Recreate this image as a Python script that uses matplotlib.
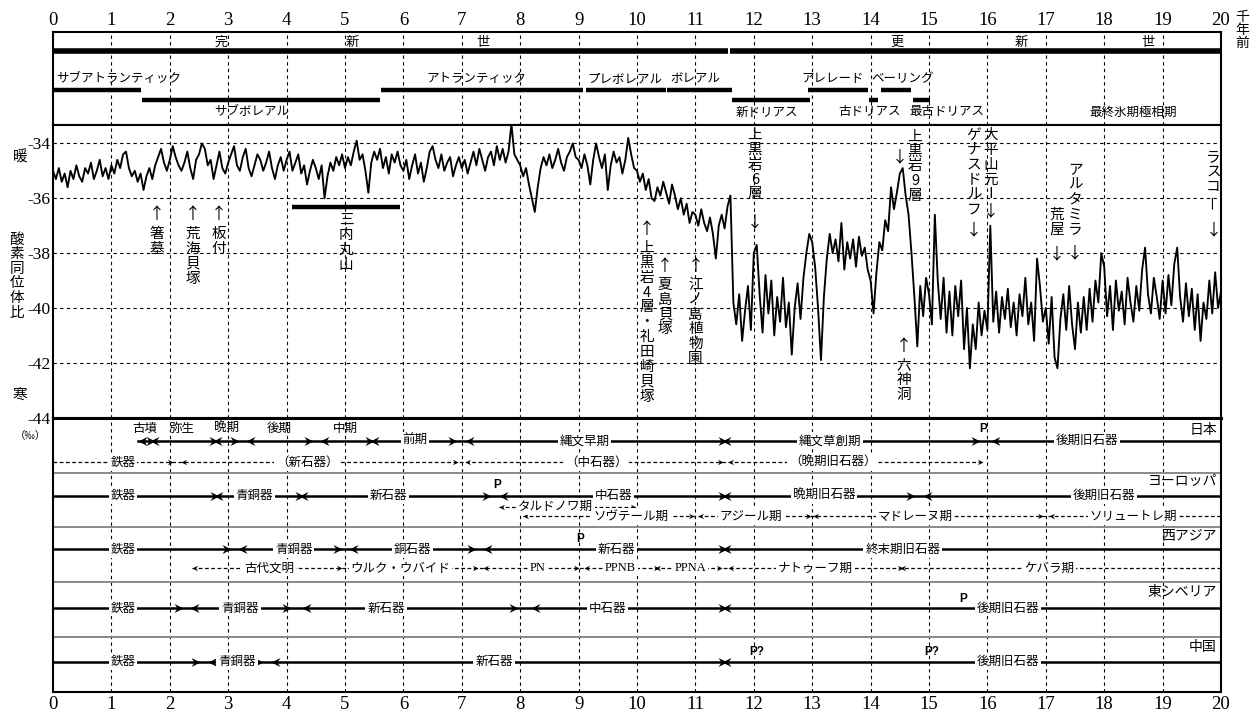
import numpy as np
import matplotlib
matplotlib.use('Agg')
import matplotlib.pyplot as plt
from matplotlib.path import Path

plt.rcParams['font.family'] = ['Noto Sans CJK JP', 'DejaVu Sans']
SERIF = 'Liberation Serif'

# ---- 酸素同位体比 (0.05千年ごと, 1行 = 1000年) ----
d18o = [
    -35.0, -35.3, -34.9, -35.4, -35.1, -35.6, -35.0, -35.3, -34.8, -35.2, -35.4, -34.9, -35.1, -34.7, -35.3, -35.0, -34.6, -35.2, -34.9, -35.3,
    -34.8, -35.1, -34.6, -34.9, -34.4, -34.3, -34.9, -35.2, -35.0, -35.4, -35.1, -35.7, -35.2, -34.9, -35.3, -34.8, -34.5, -34.2, -34.7, -35.0,
    -34.6, -34.1, -34.5, -34.8, -35.0, -34.7, -34.3, -34.9, -35.3, -34.6, -34.4, -34.0, -34.2, -34.8, -34.6, -35.3, -34.8, -34.3, -34.9, -35.1,
    -34.7, -34.4, -34.1, -34.8, -35.0, -34.5, -34.2, -34.9, -35.2, -34.8, -34.4, -34.6, -35.0, -34.7, -34.3, -34.9, -35.3, -34.8, -34.5, -35.0,
    -34.6, -34.3, -35.0, -34.7, -34.4, -35.1, -34.8, -35.5, -35.0, -34.6, -34.9, -35.3, -34.8, -36.0, -35.2, -34.7, -35.0, -34.5, -34.8, -34.4,
    -34.9, -34.5, -34.8, -34.3, -33.9, -34.6, -34.4, -35.0, -35.8, -34.7, -34.3, -34.6, -34.2, -34.9, -34.5, -35.1, -34.4, -34.7, -34.3, -34.8,
    -35.0, -34.6, -35.3, -34.8, -34.4, -35.1, -34.7, -35.4, -34.9, -34.3, -34.1, -34.6, -34.9, -34.4, -35.0, -34.7, -34.5, -35.2, -34.8, -34.5,
    -34.9, -34.6, -35.1, -34.7, -34.3, -34.8, -34.2, -34.6, -35.0, -34.5, -34.3, -34.8, -34.1, -34.6, -34.2, -34.7, -34.3, -33.3, -34.4, -34.6,
    -34.8, -35.2, -34.9, -35.5, -36.0, -36.5, -35.6, -34.9, -34.5, -34.8, -34.4, -34.9, -34.6, -34.2, -34.7, -35.0, -34.5, -34.3, -34.0, -34.5,
    -34.6, -34.9, -34.4, -34.8, -35.5, -34.6, -34.0, -34.5, -34.9, -34.4, -35.7, -34.8, -34.3, -34.7, -34.5, -35.1, -34.6, -33.8, -34.4, -34.9,
    -35.0, -35.4, -35.1, -35.7, -35.3, -36.0, -36.1, -35.6, -35.9, -35.4, -35.8, -36.2, -35.5, -35.9, -36.4, -36.0, -36.6, -36.2, -36.9, -36.5,
    -36.6, -37.0, -36.4, -36.9, -37.2, -36.7, -37.3, -38.2, -37.0, -36.6, -37.1, -36.3, -35.9, -39.8, -40.6, -39.5, -41.2, -40.1, -39.2, -40.8,
    -38.0, -37.7, -39.5, -40.9, -38.8, -40.2, -39.0, -41.0, -39.6, -40.5, -38.9, -40.7, -39.8, -41.7, -40.0, -39.1, -40.4, -38.9, -38.0, -37.3,
    -37.6, -38.5, -40.0, -41.9, -39.6, -38.2, -37.3, -38.0, -37.5, -38.3, -36.9, -38.6, -37.6, -38.2, -37.5, -38.5, -37.4, -38.1, -37.8, -38.6,
    -39.0, -40.2, -38.7, -37.6, -37.9, -36.8, -37.2, -35.6, -36.4, -35.8, -35.1, -34.9, -35.9, -36.6, -38.0, -39.6, -41.4, -39.2, -40.3, -38.9,
    -39.5, -40.6, -36.6, -39.0, -40.4, -38.9, -40.9, -39.4, -41.0, -39.2, -40.3, -39.0, -41.5, -40.0, -42.2, -40.6, -41.5, -39.8, -41.0, -40.1,
    -40.8, -37.0, -40.5, -39.4, -40.9, -39.6, -40.4, -39.3, -40.7, -39.8, -41.0, -39.5, -40.3, -38.9, -40.6, -39.8, -41.2, -38.2, -39.2, -40.5,
    -40.0, -41.3, -39.6, -41.8, -42.2, -40.4, -39.5, -40.8, -39.2, -40.6, -41.5, -39.8, -40.9, -39.6, -40.8, -39.3, -40.5, -39.0, -39.8, -38.0,
    -38.5, -40.3, -39.2, -40.8, -39.0, -40.1, -39.4, -40.6, -38.9, -39.8, -40.5, -39.2, -40.1, -38.6, -37.8, -39.5, -40.2, -38.9, -39.6, -40.4,
    -39.0, -40.2, -38.8, -39.9, -38.4, -37.8, -39.6, -40.5, -39.1, -40.3, -39.3, -40.8, -39.5, -41.2, -39.8, -40.4, -39.0, -40.2, -38.7, -40.0,
    -39.4,
]
ages = np.linspace(0, 20, len(d18o))

# ---- 地質区分・花粉帯 ----
epoch_bars = [(0.0, 11.55), (11.6, 20.0)]
epoch_labels = [(2.88, '完'), (5.12, '新'), (7.36, '世'), (14.46, '更'), (16.58, '新'), (18.75, '世')]
zone_upper = [(0.0, 1.5), (5.62, 9.07), (9.12, 10.49), (10.52, 11.62), (12.93, 13.95), (14.17, 14.7)]
zone_lower = [(1.52, 5.6), (11.62, 12.96), (13.97, 14.12), (14.72, 15.02)]
zone_upper_labels = [(7.25, 'アトランティック'), (9.8, 'プレボレアル'), (11.0, 'ボレアル'),
                     (13.35, 'アレレード'), (14.55, 'ベーリング')]
zone_lower_labels = [(3.4, 'サブボレアル'), (12.22, '新ドリアス'), (13.98, '古ドリアス'),
                     (15.3, '最古ドリアス'), (18.5, '最終氷期極相期')]

# ---- 遺跡 (名前, x, 矢印の値, 矢印, 文字の上端, 文字のx) ----
sites = [
    ('箸墓', 1.78, -36.58, '↑', -37.05, 1.78),
    ('荒海貝塚', 2.39, -36.58, '↑', -37.05, 2.39),
    ('板付', 2.84, -36.58, '↑', -37.05, 2.84),
    ('上黒岩4層・礼田崎貝塚', 10.17, -37.13, '↑', -37.56, 10.17),
    ('夏島貝塚', 10.48, -38.47, '↑', -38.9, 10.48),
    ('江ノ島植物園', 11.0, -38.47, '↑', -38.9, 11.0),
    ('上黒岩6層', 12.02, -36.87, '↓', -33.44, 12.02),
    ('上黒岩9層', 14.5, -34.5, '↓', -33.5, 14.76),
    ('六神洞', 14.57, -41.39, '↑', -41.82, 14.57),
    ('ゲナスドルフ', 15.77, -37.13, '↓', -33.44, 15.77),
    ('大平山元Ⅰ', 16.06, -36.47, '↓', -33.44, 16.06),
    ('荒屋', 17.19, -38.04, '↓', -36.36, 17.19),
    ('アルタミラ', 17.5, -38.0, '↓', -34.72, 17.5),
    ('ラスコー', 19.87, -37.13, '↓', -34.24, 19.87),
]
sannai = (4.09, 5.94, -36.32)

# ---- 文化編年 ----
jp_line, jp_r, jp_l = (1.45, 20.0), [1.74, 2.82, 3.18, 4.45, 5.5, 6.92, 11.54, 15.88], [1.45, 1.66, 2.74, 3.3, 4.57, 5.42, 7.06, 11.46, 16.06]
jp_top = [(1.57, '古墳'), (2.2, '弥生'), (2.97, '晩期'), (3.88, '後期'), (5.0, '中期')]
jp_labels = [(6.2, '前期'), (9.1, '縄文早期'), (13.3, '縄文草創期'), (17.7, '後期旧石器')]
jp_sub_line, jp_sub_r, jp_sub_l = (0.0, 15.92), [2.06, 6.93, 11.47, 15.92], [2.2, 7.06, 11.55]
jp_sub_labels = [(1.2, '鉄器'), (4.35, '（新石器）'), (9.3, '（中石器）'), (13.35, '（晩期旧石器）')]

eu_line, eu_r, eu_l = (0.0, 20.0), [2.84, 4.29, 7.5, 11.54, 14.76], [2.76, 4.21, 7.64, 11.46, 14.9]
eu_labels = [(1.2, '鉄器'), (3.45, '青銅器'), (5.75, '新石器'), (9.6, '中石器'), (13.2, '晩期旧石器'), (18.0, '後期旧石器')]
eu_sub1_line, eu_sub1_r, eu_sub1_l = (7.64, 9.98), [9.98], [7.64]
eu_sub1_labels = [(8.6, 'タルドノワ期')]
eu_sub2_line, eu_sub2_r, eu_sub2_l = (8.05, 20.0), [10.98, 12.98, 16.96], [8.05, 11.04, 13.02, 17.06]
eu_sub2_labels = [(9.9, 'ソヴテール期'), (11.95, 'アジール期'), (14.76, 'マドレーヌ期'), (18.5, 'ソリュートレ期')]

wa_line, wa_r, wa_l = (0.0, 20.0), [3.05, 4.95, 7.25, 11.54], [3.17, 5.07, 7.37, 11.46]
wa_labels = [(1.2, '鉄器'), (4.12, '青銅器'), (6.15, '銅石器'), (9.65, '新石器'), (14.55, '終末期旧石器')]
wa_sub_line, wa_sub_r, wa_sub_l = (2.38, 20.0), [4.95, 7.27, 9.0, 10.37, 11.45, 14.56], [2.38, 5.04, 7.36, 9.1, 10.31, 11.55, 14.5]
wa_sub_labels = [(3.7, '古代文明'), (5.95, 'ウルク・ウバイド'), (8.3, 'PN'), (9.72, 'PPNB'),
                 (10.92, 'PPNA'), (13.05, 'ナトゥーフ期'), (17.05, 'ケバラ期')]

es_line, es_r, es_l = (0.0, 20.0), [2.22, 4.08, 7.97, 11.54], [2.34, 4.26, 8.18, 11.46]
es_labels = [(1.2, '鉄器'), (3.2, '青銅器'), (5.7, '新石器'), (9.5, '中石器'), (16.35, '後期旧石器')]

cn_line, cn_r, cn_l = (0.0, 20.0), [2.52, 3.6, 11.54], [2.66, 3.74, 11.46]
cn_labels = [(1.2, '鉄器'), (3.15, '青銅器'), (7.55, '新石器'), (16.35, '後期旧石器')]

regions = ['日本', 'ヨーロッパ', '西アジア', '東シベリア', '中国']
p_marks = [(0, 15.92, 'P'), (1, 7.6, 'P'), (2, 9.02, 'P'), (3, 15.58, 'P'), (4, 12.05, 'P?'), (4, 15.05, 'P?')]

# ---------------------------------------------------------------
W, H = 1257, 715
fig = plt.figure(figsize=(W / 100, H / 100), dpi=100)


def box(top, bottom):
    return [53 / W, 1 - bottom / H, (1221 - 53) / W, (bottom - top) / H]


ax_h = fig.add_axes(box(32, 125))
ax_c = fig.add_axes(box(125, 417.7))
ax_b = fig.add_axes(box(417.7, 692))

for ax in (ax_h, ax_c, ax_b):
    ax.set_xlim(0, 20)
    for sp in ax.spines.values():
        sp.set_linewidth(1.5)
    for x in range(1, 20):
        ax.axvline(x, color='k', lw=0.8, ls=(0, (3, 3)), zorder=0.5)
    ax.tick_params(length=0)
ax_c.spines['bottom'].set_linewidth(2.2)
ax_b.spines['top'].set_linewidth(2.2)

# header
ax_h.set_ylim(1, 0)
ax_h.set_yticks([])
ax_h.xaxis.tick_top()
ax_h.set_xticks(range(21), [str(i) for i in range(21)], fontfamily=SERIF, fontsize=13.5)
ax_h.tick_params(pad=2)
for a, b in epoch_bars:
    ax_h.plot([a, b], [0.2, 0.2], color='k', lw=4, solid_capstyle='butt')
for x, s in epoch_labels:
    ax_h.text(x, 0.11, s, ha='center', va='center', fontsize=9.5)
for a, b in zone_upper:
    ax_h.plot([a, b], [0.62, 0.62], color='k', lw=3.2, solid_capstyle='butt')
for a, b in zone_lower:
    ax_h.plot([a, b], [0.73, 0.73], color='k', lw=3.2, solid_capstyle='butt')
ax_h.text(0.05, 0.5, 'サブアトランティック', ha='left', va='center', fontsize=9)
for x, s in zone_upper_labels:
    ax_h.text(x, 0.5, s, ha='center', va='center', fontsize=9)
for x, s in zone_lower_labels:
    ax_h.text(x, 0.86, s, ha='center', va='center', fontsize=9)
fig.text(1242 / W, 1 - 30 / H, '千\n年\n前', ha='center', va='center', fontsize=10, linespacing=0.95)

# 酸素同位体比カーブ
ax_c.set_ylim(-44, -33.33)
ax_c.set_xticks([])
yt = [-34, -36, -38, -40, -42, -44]
ax_c.set_yticks(yt, [str(v) for v in yt], fontfamily=SERIF, fontsize=12.5)
ax_c.tick_params(pad=2)
for v in yt[:-1]:
    ax_c.axhline(v, color='k', lw=0.8, ls=(0, (3, 3)), zorder=0.5)
ax_c.plot(ages, d18o, color='k', lw=1.35, zorder=3)
ax_c.plot(sannai[:2], [sannai[2]] * 2, color='k', lw=3.2, solid_capstyle='butt')


def vtext(ax, x, y, s, size=10.5, pitch=10.7):
    for i, ch in enumerate(s):
        ax.annotate(ch, xy=(x, y), xytext=(0, -i * pitch), textcoords='offset points',
                    ha='center', va='top', fontsize=size, rotation=90 if ch == 'ー' else 0)


vtext(ax_c, (sannai[0] + sannai[1]) / 2, -36.54, '三内丸山')
for name, x, ay, arr, ty, tx in sites:
    ax_c.text(x, ay, arr, ha='center', va='center', fontsize=11.5)
    vtext(ax_c, tx, ty, name)

fig.text(20 / W, 1 - 158 / H, '暖', ha='center', va='center', fontsize=10.5)
fig.text(20 / W, 1 - 395 / H, '寒', ha='center', va='center', fontsize=10.5)
for i, ch in enumerate('酸素同位体比'):
    fig.text(17 / W, 1 - (240 + i * 14.5) / H, ch, ha='center', va='center', fontsize=10.5)
fig.text(30 / W, 1 - 436 / H, '（‰）', ha='center', va='center', fontsize=7.5)

# 文化編年
ax_b.set_ylim(5, 0)
ax_b.set_yticks([])
ax_b.set_xticks(range(21), [str(i) for i in range(21)], fontfamily=SERIF, fontsize=13.5)
ax_b.tick_params(pad=3)
for r in range(1, 5):
    ax_b.axhline(r, color='#8a8a8a', lw=1.4, zorder=1)

chev_codes = [Path.MOVETO, Path.LINETO, Path.LINETO, Path.LINETO, Path.CLOSEPOLY]
chev_r = Path([(0, 0), (-1, 0.5), (-0.65, 0), (-1, -0.5), (0, 0)], chev_codes)
chev_l = Path([(0, 0), (1, 0.5), (0.65, 0), (1, -0.5), (0, 0)], chev_codes)


def draw_row(y, line, rt, lt, labels, dashed=False):
    ls = (0, (3, 2)) if dashed else '-'
    lw = 0.9 if dashed else 1.8
    ms = 8 if dashed else 13
    ax_b.plot(line, [y, y], color='k', lw=lw, ls=ls, zorder=2)
    ax_b.plot(rt, [y] * len(rt), ls='none', marker=chev_r, ms=ms, mew=0, color='k', zorder=3)
    ax_b.plot(lt, [y] * len(lt), ls='none', marker=chev_l, ms=ms, mew=0, color='k', zorder=3)
    for x, s in labels:
        f = [SERIF] if s.startswith('PP') or s == 'PN' else None
        ax_b.text(x, y, s, ha='center', va='center', fontsize=9, zorder=4, family=f,
                  bbox=dict(boxstyle='square,pad=0.15', fc='white', ec='none'))


draw_row(0.42, jp_line, jp_r, jp_l, jp_labels)
for x, s in jp_top:
    ax_b.text(x, 0.2, s, ha='center', va='center', fontsize=9)
draw_row(0.81, jp_sub_line, jp_sub_r, jp_sub_l, jp_sub_labels, dashed=True)

draw_row(1.42, eu_line, eu_r, eu_l, eu_labels)
draw_row(1.62, eu_sub1_line, eu_sub1_r, eu_sub1_l, eu_sub1_labels, dashed=True)
draw_row(1.80, eu_sub2_line, eu_sub2_r, eu_sub2_l, eu_sub2_labels, dashed=True)

draw_row(2.40, wa_line, wa_r, wa_l, wa_labels)
draw_row(2.74, wa_sub_line, wa_sub_r, wa_sub_l, wa_sub_labels, dashed=True)

draw_row(3.47, es_line, es_r, es_l, es_labels)
draw_row(4.45, cn_line, cn_r, cn_l, cn_labels)

for i, s in enumerate(regions):
    ax_b.text(19.93, i + [0.22, 0.16, 0.16, 0.18, 0.18][i], s, ha='right', va='center', fontsize=10)
for row, x, s in p_marks:
    ax_b.text(x, row + [0.2, 0.22, 0.22, 0.3, 0.27][row], s, ha='center', va='center',
              fontsize=8.5, fontweight='bold', family=['Liberation Sans'])

fig.savefig('out.png', dpi=100)
